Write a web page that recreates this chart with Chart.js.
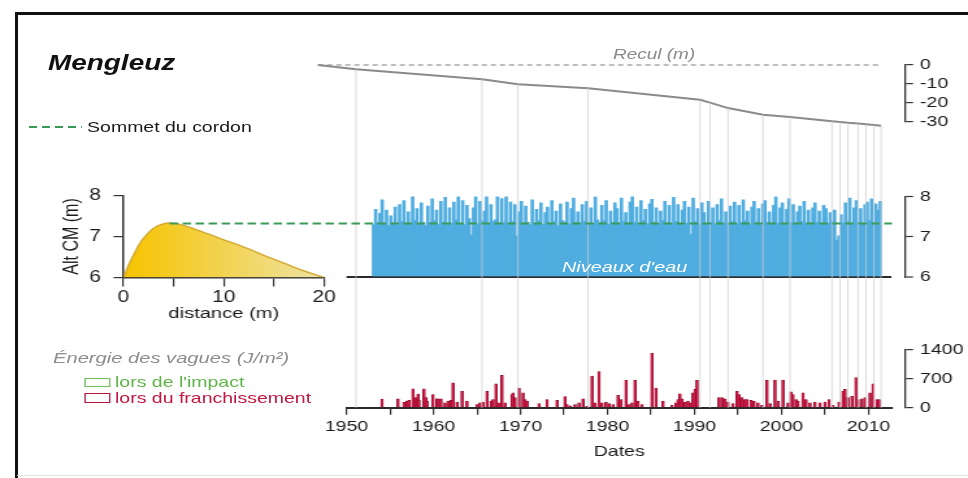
<!DOCTYPE html>
<html><head><meta charset="utf-8">
<script src="https://cdn.jsdelivr.net/npm/chart.js@4.4.1/dist/chart.umd.min.js"></script>
<style>
html,body{margin:0;padding:0;background:#fff;overflow:hidden;width:968px;height:478px;}
#frameTop{position:absolute;left:15px;top:11.5px;width:953px;height:3px;background:#111;}
#frameLeft{position:absolute;left:15px;top:11.5px;width:2.5px;height:467px;background:#111;}
#frameBottom{position:absolute;left:17px;top:475px;width:951px;height:1px;background:#e0e0e0;}
#wrap{position:absolute;left:0;top:0;width:760px;height:478px;transform:scaleX(1.29933);transform-origin:0 0;font-family:"Liberation Sans",Arial,sans-serif;}
#wrap canvas{position:absolute;left:0;top:0;}
.t{position:absolute;white-space:nowrap;line-height:1;}
.box{position:absolute;box-sizing:border-box;background:transparent;}
</style></head>
<body>
<div id="frameTop"></div><div id="frameLeft"></div><div id="frameBottom"></div>
<div id="wrap">
  <canvas id="profile" width="760" height="478" style="width:760px;height:478px"></canvas>
  <canvas id="main" width="760" height="478" style="width:760px;height:478px"></canvas>
  <div class="t" style="left:36.9px;top:52.8px;font-size:21.5px;font-weight:bold;font-style:italic;color:#111;">Mengleuz</div>
  <div style="position:absolute;left:21.5px;top:125.5px;width:41.6px;height:2px;background:repeating-linear-gradient(to right,#3b9a57 0 6.5px,transparent 6.5px 10px);"></div>
  <div class="t" style="left:67px;top:119.2px;font-size:15px;color:#1a1a1a;">Sommet du cordon</div>
  <div class="t" style="left:471.8px;top:47.4px;font-size:14.6px;font-style:italic;color:#8a8a8a;">Recul (m)</div>
  <div class="t" style="left:432.5px;top:259px;font-size:15.3px;font-style:italic;color:#ffffff;">Niveaux d'eau</div>
  <div class="t" style="left:40.8px;top:349.9px;font-size:15.5px;font-style:italic;color:#8c8c8c;">Énergie des vagues (J/m²)</div>
  <div class="box" style="left:65.4px;top:377.7px;width:19.2px;height:9px;border:1.4px solid #6fbf57;"></div>
  <div class="t" style="left:88.5px;top:373.9px;font-size:15px;color:#5fb548;">lors de l'impact</div>
  <div class="box" style="left:65.4px;top:393.3px;width:19.2px;height:9.4px;border:1.4px solid #b8163f;"></div>
  <div class="t" style="left:88.5px;top:389.7px;font-size:15px;color:#c2173f;">lors du franchissement</div>
</div>
<script>
// ---------- data ----------
const reculYears  = [1946.72, 1951.09, 1965.57, 1969.71, 1977.76, 1990.63, 1991.78, 1993.85, 1997.87, 2000.98, 2005.80, 2006.72, 2007.64, 2008.79, 2009.71, 2010.63, 2011.44];
const reculValues = [0, -2.3, -7.5, -10.2, -12.3, -18.4, -19.9, -22.8, -26.3, -27.5, -29.8, -30.2, -30.6, -31.0, -31.4, -31.8, -32.1];

const waterStart = 1953.1;
const waterStep = 0.25;
const waterLevels = [
 7.30,7.68,7.36,7.58, 7.92,7.32,7.66,7.28,
 7.52,7.34,7.74,7.30, 7.80,7.38,7.90,7.33,
 7.62,7.30,8.02,7.40, 7.70,7.31,7.84,7.36,
 7.28,7.76,7.35,7.94, 7.40,7.66,7.30,7.88,
 7.36,7.98,7.30,7.72, 7.34,7.86,7.42,8.08,
 7.33,7.90,7.30,7.78, 7.45,7.05,7.72,8.02,
 7.32,7.88,7.40,7.64, 8.12,7.34,7.80,7.38,
 7.42,8.18,7.33,7.95, 7.36,8.15,7.30,7.86,
 7.38,7.80,7.02,7.62, 7.88,7.32,7.76,7.36,
 7.30,7.92,7.34,7.68, 7.40,7.84,7.31,7.60,
 7.74,7.33,7.90,7.38, 7.64,7.28,7.82,7.40,
 7.35,7.86,7.32,7.70, 7.96,7.36,7.62,7.30,
 7.80,7.38,7.88,7.33, 7.72,7.30,8.00,7.42,
 7.34,7.78,7.40,7.90, 7.31,7.64,7.36,7.84,
 7.70,7.34,7.96,7.38, 7.60,7.32,7.86,8.02,
 7.36,7.74,7.30,7.90, 7.40,7.68,7.33,7.82,
 7.93,7.36,7.72,7.31, 7.64,7.40,7.88,7.34,
 7.78,7.32,7.98,7.38, 7.80,7.30,7.66,7.88,
 7.34,7.74,7.06,7.96, 7.38,7.70,7.32,7.84,
 7.60,7.33,7.88,7.36, 7.72,7.30,7.80,7.40,
 7.94,7.34,7.62,7.30, 7.76,7.38,7.86,7.32,
 7.78,7.36,7.92,7.40, 7.64,7.31,7.74,7.88,
 7.35,7.70,7.30,7.82, 7.90,7.36,7.62,7.33,
 7.78,8.00,7.34,7.72, 7.84,7.30,7.68,7.94,
 7.36,7.80,7.32,7.62, 7.76,7.38,7.88,7.34,
 7.66,7.30,7.72,7.84, 7.36,7.64,7.31,7.78,
 7.70,7.34,7.60,7.38, 7.66,6.92,7.02,7.55,
 7.34,7.84,7.40,7.96, 7.32,7.72,7.90,7.36,
 7.70,7.33,7.80,7.86, 7.40,7.94,7.36,7.82,
 7.66,7.88
];

const energyYears = [
 1954.08,1955.92,1956.61,1956.95,1957.18,1957.64,1957.99,1958.22,1958.33,1958.91,
 1959.14,1959.25,1959.94,1960.40,1960.52,1960.86,1961.32,1961.67,1962.01,1962.24,
 1962.70,1963.28,1963.85,1965.00,1965.34,1965.69,1966.15,1966.61,1966.84,1967.18,
 1967.53,1967.87,1968.22,1969.02,1969.14,1969.37,1969.83,1970.29,1970.52,1970.75,
 1972.13,1973.05,1974.20,1975.11,1975.34,1975.69,1976.26,1976.72,1977.18,1977.64,
 1978.22,1978.56,1979.02,1979.37,1979.83,1980.17,1980.63,1981.21,1981.55,1982.13,
 1982.47,1982.82,1983.16,1983.51,1983.97,1985.11,1985.57,1986.38,1987.41,1987.87,
 1988.10,1988.33,1988.56,1988.91,1989.25,1989.48,1989.83,1990.06,1990.29,1992.82,
 1993.16,1993.51,1993.85,1994.43,1994.89,1995.11,1995.46,1995.80,1996.03,1996.49,
 1996.84,1997.30,1997.76,1998.33,1998.68,1999.25,1999.60,2000.17,2000.75,2001.09,
 2001.32,2001.67,2001.90,2002.47,2002.82,2003.28,2003.85,2004.43,2005.00,2005.46,
 2005.92,2006.61,2007.07,2007.30,2007.64,2008.10,2008.56,2008.79,2009.25,2009.60,
 2010.17,2010.52,2010.98,2011.21
];
const energyValues = [
 213,215,140,160,180,460,245,330,190,460,
 250,160,320,215,215,215,120,160,180,605,
 140,400,160,80,120,140,400,160,200,580,
 120,785,120,320,365,245,480,365,200,160,
 100,200,180,270,80,50,80,120,215,40,
 770,120,875,120,140,100,80,300,200,670,
 80,120,670,160,80,1320,480,160,60,120,
 200,340,215,140,160,120,365,450,670,245,
 245,215,140,100,400,320,245,200,200,180,
 160,120,60,670,100,670,160,670,120,385,
 320,200,160,365,200,120,140,120,140,200,
 60,140,400,450,245,280,730,200,215,245,
 365,580,200,200
];

const profileDistance = [0, 0.3, 0.7, 1.2, 1.7, 2.3, 3.0, 3.7, 4.5, 5.2, 6, 8, 10, 12, 14, 16, 18, 20];
const profileAltitude = [6.0, 6.18, 6.4, 6.64, 6.86, 7.04, 7.2, 7.29, 7.33, 7.32, 7.27, 7.1, 6.92, 6.74, 6.54, 6.35, 6.16, 6.0];
const crestDistance = 4.6;
const crestLevel = 7.33;

const yearTicks = [1950,1955,1960,1965,1970,1975,1980,1985,1990,1995,2000,2005,2010];
const reculTicks = [0,-10,-20,-30];
const waterTicks = [6,7,8];
const energyTicks = [0,700,1400];
const distanceTicks = [0,5,10,15,20];
const altitudeTicks = [6,7,8];
const yearMin = 1950, yearMax = 2012.7;

// ---------- charts ----------
Chart.defaults.font.family = '"Liberation Sans", Arial, sans-serif';
Chart.defaults.color = '#1a1a1a';

const profileChart = new Chart(document.getElementById('profile'), {
  type: 'line',
  data: { datasets: [{
    data: profileDistance.map((x, i) => ({x, y: profileAltitude[i]})),
    borderColor: '#d3a82e', borderWidth: 1.4, pointRadius: 0,
    tension: 0.3, cubicInterpolationMode: 'monotone',
    fill: 'start',
    backgroundColor: (c) => {
      const a = c.chart.chartArea;
      if (!a) return '#f3d24a';
      const g = c.chart.ctx.createLinearGradient(a.left, 0, a.right, 0);
      g.addColorStop(0, '#f7c400'); g.addColorStop(0.3, '#f4cd30'); g.addColorStop(1, '#efe3a6');
      return g;
    }
  }]},
  options: {
    responsive: false, animation: false, devicePixelRatio: 1,
    layout: { padding: { left: 35.05, right: 510.6, top: 195.5, bottom: 150.5 } },
    plugins: { legend: {display: false}, tooltip: {enabled: false} },
    scales: {
      x: { type: 'linear', min: 0, max: 20, offset: false,
        afterBuildTicks: s => { s.ticks = distanceTicks.map(v => ({value: v})); },
        afterFit: s => { s.height = 50; },
        ticks: { callback: v => (v % 10 === 0 ? String(v) : ''), font: {size: 16}, padding: 1.6, maxRotation: 0, autoSkip: false },
        grid: { drawOnChartArea: false, offset: false, tickLength: 9, color: '#333', lineWidth: 1.2 },
        border: { color: '#333', width: 1.5 },
        title: { display: true, text: 'distance (m)', font: {size: 15.5}, padding: {top: 0, bottom: 4.2} } },
      y: { type: 'linear', min: 6, max: 8,
        afterBuildTicks: s => { s.ticks = altitudeTicks.map(v => ({value: v})); },
        afterFit: s => { s.width = 60; },
        ticks: { font: {size: 16}, padding: 9.6, autoSkip: false },
        grid: { drawOnChartArea: false, tickLength: 7.7, color: '#333', lineWidth: 1.2 },
        border: { color: '#333', width: 1.5 },
        title: { display: true, text: 'Alt CM (m)', font: {size: 16}, padding: {top: 10.8, bottom: 0} } }
    }
  }
});

const overlayPlugin = {
  id: 'overlay',
  afterDatasetsDraw(chart) {
    const {ctx, chartArea, scales: {x, yRecul, yWater, yEnergy}} = chart;
    ctx.save();
    // survey dates (vertical lines from the shoreline curve down to the energy axis)
    ctx.strokeStyle = 'rgba(205,205,205,0.85)';
    ctx.lineWidth = 0.85;
    const yb = yEnergy.getPixelForValue(0);
    reculYears.forEach((yr, i) => {
      if (i === 0) return;
      const px = x.getPixelForValue(yr);
      ctx.beginPath();
      ctx.moveTo(px, yRecul.getPixelForValue(reculValues[i]));
      ctx.lineTo(px, yb);
      ctx.stroke();
    });
    // crest level ("Sommet du cordon")
    const yc = yWater.getPixelForValue(crestLevel);
    const x0 = profileChart.scales.x.getPixelForValue(crestDistance);
    ctx.strokeStyle = '#3b9a57';
    ctx.lineWidth = 2;
    ctx.setLineDash([6.5, 3.5]);
    ctx.beginPath();
    ctx.moveTo(x0, yc);
    ctx.lineTo(chartArea.right, yc);
    ctx.stroke();
    ctx.restore();
  }
};

const rightAxis = (ticksArr, min, max, weight) => ({
  type: 'linear', position: 'right', stack: 'v', stackWeight: weight, weight: 1,
  min, max,
  afterBuildTicks: s => { s.ticks = ticksArr.map(v => ({value: v})); },
  afterFit: s => { s.width = 50; },
  ticks: { font: {size: 15}, padding: 5.4, autoSkip: false, callback: v => String(v) },
  grid: { drawOnChartArea: false, tickLength: 6.2, color: '#333', lineWidth: 1.2 },
  border: { color: '#333', width: 1.3 }
});
const gapAxis = (weight) => ({ type: 'linear', position: 'right', stack: 'v', stackWeight: weight, weight: 1, display: false });

const waterAxis = rightAxis(waterTicks, 6, 8, 80.5);
waterAxis.grid = {
  drawOnChartArea: true, tickLength: 6.2, tickColor: '#333', tickWidth: 1.2,
  color: c => (c.tick && c.tick.value === waterTicks[0] ? '#2a2a2a' : 'rgba(0,0,0,0)'),
  lineWidth: c => (c.tick && c.tick.value === waterTicks[0] ? 2 : 1)
};

const mainChart = new Chart(document.getElementById('main'), {
  type: 'bar',
  data: { datasets: [
    { type: 'bar', label: 'lors du franchissement', yAxisID: 'yEnergy', grouped: false,
      data: energyYears.map((x, i) => ({x, y: energyValues[i]})),
      backgroundColor: '#d7194a', borderColor: '#7d0c25', borderWidth: 0.6, barThickness: 2 },
    { type: 'line', label: 'Recul (m)', yAxisID: 'yRecul', clip: false,
      data: reculYears.map((x, i) => ({x, y: reculValues[i]})),
      borderColor: '#8a8a8a', borderWidth: 2, pointRadius: 0 },
    { type: 'line', label: 'Recul 0', yAxisID: 'yRecul', clip: false,
      data: [{x: reculYears[0], y: 0}, {x: reculYears[reculYears.length - 1], y: 0}],
      borderColor: '#a8a8a8', borderWidth: 1.3, borderDash: [4, 3], pointRadius: 0 },
    { type: 'bar', label: "Niveaux d'eau", yAxisID: 'yWater', grouped: false, base: waterTicks[0],
      data: waterLevels.map((y, i) => ({x: waterStart + i * waterStep, y})),
      backgroundColor: '#50ade0', barThickness: 2 }
  ]},
  options: {
    responsive: false, animation: false, devicePixelRatio: 1,
    layout: { padding: { left: 266.68, right: 13.5, top: 65, bottom: 10.2 } },
    plugins: { legend: {display: false}, tooltip: {enabled: false} },
    scales: {
      x: { type: 'linear', position: 'bottom', min: yearMin, max: yearMax, offset: false,
        afterBuildTicks: s => { s.ticks = yearTicks.map(v => ({value: v})); },
        afterFit: s => { s.height = 60; },
        ticks: { callback: v => (v % 10 === 0 ? String(v) : ''), font: {size: 15}, padding: 3, maxRotation: 0, autoSkip: false },
        grid: { drawOnChartArea: false, offset: false, tickLength: 7, color: '#333', lineWidth: 1.2 },
        border: { color: '#2a2a2a', width: 2 },
        title: { display: true, text: 'Dates', font: {size: 15}, padding: {top: 0, bottom: 6.8} } },
      ySpacer: { type: 'linear', position: 'right', display: false, weight: 0, afterFit: s => { s.width = 10; } },
      yRecul: rightAxis(reculTicks, -30, 0, 56.7),
      yGap1: gapAxis(74.8),
      yWater: waterAxis,
      yGap2: gapAxis(73.0),
      yEnergy: rightAxis(energyTicks, 0, 1400, 57.8)
    }
  },
  plugins: [overlayPlugin]
});
</script>
</body></html>
